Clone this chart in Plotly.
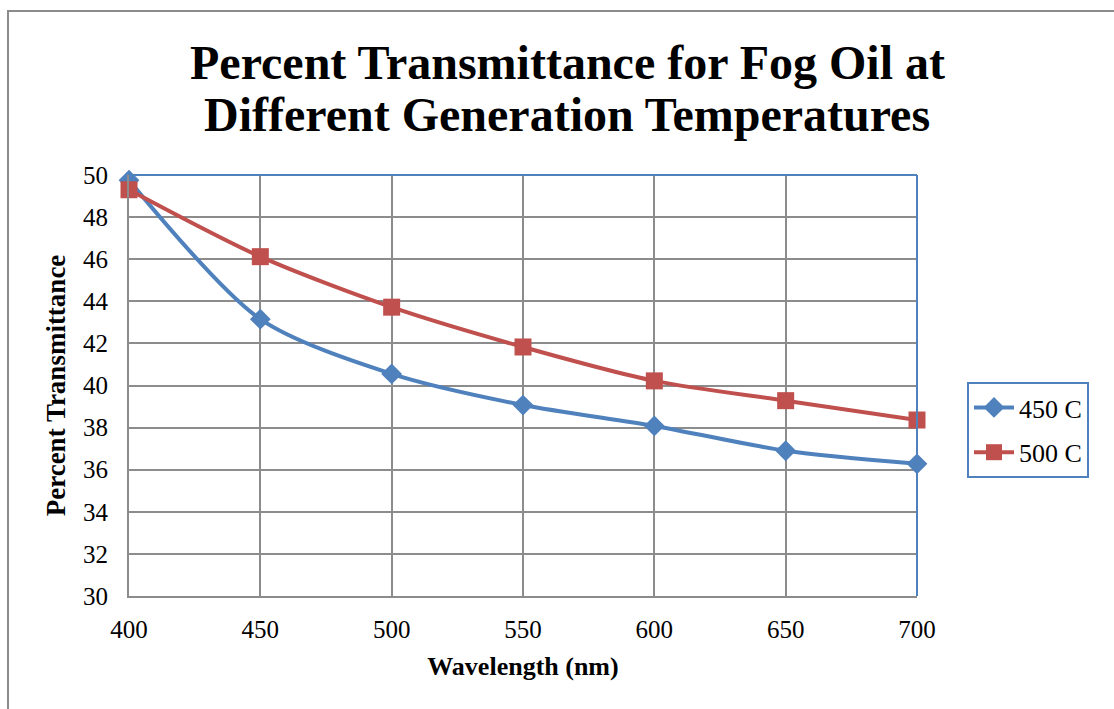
import plotly.graph_objects as go

wavelength = [400, 450, 500, 550, 600, 650, 700]
t_450 = [49.75, 43.15, 40.55, 39.07, 38.08, 36.9, 36.28]
t_500 = [49.3, 46.12, 43.72, 41.83, 40.22, 39.28, 38.36]
series_names = ["450 C", "500 C"]
title_lines = ["Percent Transmittance for Fog Oil at", "Different Generation Temperatures"]

W, H = 1114, 709
L, R, T, B = 129, 917, 175, 596
FONT = "Liberation Serif, Times New Roman, serif"

fig = go.Figure()
fig.add_trace(go.Scatter(x=wavelength, y=t_450, name=series_names[0], mode="lines+markers",
                         legendgroup="a", cliponaxis=False,
                         line=dict(color="#4F81BD", width=4, shape="spline", smoothing=0.8),
                         marker=dict(symbol="diamond", size=16, color="#4F81BD")))
fig.add_trace(go.Scatter(x=wavelength, y=t_500, name=series_names[1], mode="lines+markers",
                         legendgroup="b", cliponaxis=False,
                         line=dict(color="#C0504D", width=4, shape="spline", smoothing=0.8),
                         marker=dict(symbol="square", size=17, color="#C0504D")))

pw, ph = R - L, B - T
def px(x):
    return (x - L) / pw
def py(y):
    return (B - y) / ph

fig.update_layout(
    width=W, height=H,
    margin=dict(l=L, r=W - R, t=T, b=H - B),
    paper_bgcolor="white", plot_bgcolor="white",
    font=dict(family=FONT, color="black"),
    showlegend=True,
    legend=dict(x=px(967), y=py(430), xanchor="left", yanchor="middle",
                bordercolor="#4F81BD", borderwidth=2, font=dict(size=26, family=FONT),
                itemwidth=40, tracegroupgap=8, traceorder="grouped", bgcolor="white"),
    xaxis=dict(range=[400, 700], tickvals=wavelength, showgrid=True, gridcolor="#8c8c8c", gridwidth=1.5,
               showline=True, linecolor="#8c8c8c", linewidth=2, zeroline=False,
               ticks="", tickfont=dict(size=25, family=FONT), ticklabelstandoff=10,
               title=dict(text="<b>Wavelength (nm)</b>", font=dict(size=26, family=FONT), standoff=15)),
    yaxis=dict(range=[30, 50], dtick=2, showgrid=True, gridcolor="#8c8c8c", gridwidth=1.5,
               showline=True, linecolor="#8c8c8c", linewidth=2, zeroline=False,
               ticks="", tickfont=dict(size=25, family=FONT), ticklabelstandoff=14,
               title=dict(text="<b>Percent Transmittance</b>", font=dict(size=27, family=FONT), standoff=10)),
    shapes=[
        dict(type="line", xref="paper", yref="paper", x0=0, x1=1, y0=1, y1=1,
             line=dict(color="#4F81BD", width=2)),
        dict(type="line", xref="paper", yref="paper", x0=1, x1=1, y0=0, y1=1,
             line=dict(color="#4F81BD", width=2)),
        dict(type="rect", xref="paper", yref="paper", x0=px(8), x1=px(1130), y0=py(730), y1=py(11),
             line=dict(color="#8c8c8c", width=2), layer="below"),
    ],
    annotations=[
        dict(text="<b>%s</b>" % title_lines[0], xref="paper", yref="paper", x=px(567), y=py(62),
             xanchor="center", yanchor="middle", showarrow=False, font=dict(size=48, family=FONT)),
        dict(text="<b>%s</b>" % title_lines[1], xref="paper", yref="paper", x=px(567), y=py(115),
             xanchor="center", yanchor="middle", showarrow=False, font=dict(size=48, family=FONT)),
    ],
)

fig.write_html("out.html")
